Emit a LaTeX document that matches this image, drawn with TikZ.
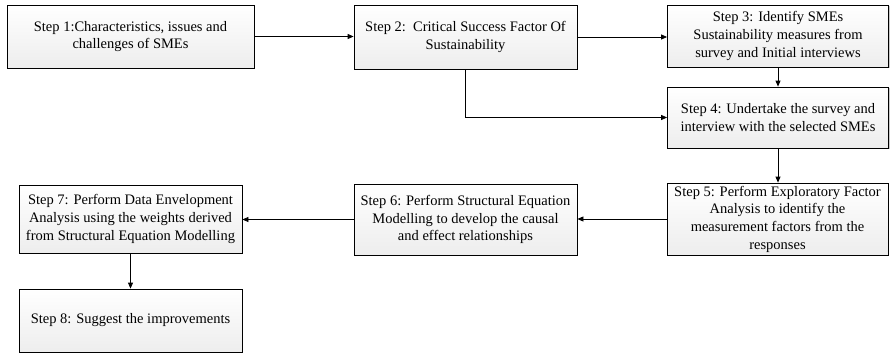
\documentclass[tikz,border=0pt]{standalone}
\usepackage{fontspec}
\setmainfont{Liberation Serif}
\usetikzlibrary{arrows.meta,shadows}
\begin{document}
\begin{tikzpicture}[x=1pt,y=-1pt,
  stepbox/.style={draw=black, line width=0.8pt, top color=white, bottom color=gray!14,
    drop shadow={shadow xshift=1pt, shadow yshift=-1pt, fill=gray!70, opacity=0.6},
    align=center, inner sep=1pt, font=\fontsize{14.5}{17.7}\selectfont},
  conn/.style={line width=0.8pt, -{Triangle[length=6pt,width=5pt]}}]
\useasboundingbox (0,0) rectangle (890,353);
\node[stepbox, minimum width=247pt, minimum height=63pt] (b1) at (130.5,36.5)
  {Step 1:Characteristics, issues and\\challenges of SMEs};
\node[stepbox, minimum width=223pt, minimum height=64pt] (b2) at (465.5,37)
  {Step 2:\ \ Critical Success Factor Of\\Sustainability};
\node[stepbox, minimum width=221pt, minimum height=62pt] (b3) at (778,36)
  {Step 3: Identify SMEs\\Sustainability measures from\\survey and Initial interviews};
\node[stepbox, minimum width=221pt, minimum height=61pt] (b4) at (778,117.5)
  {Step 4: Undertake the survey and\\interview with the selected SMEs};
\node[stepbox, minimum width=221pt, minimum height=72pt] (b5) at (777.5,219)
  {Step 5: Perform Exploratory Factor\\Analysis to identify the\\measurement factors from the\\responses};
\node[stepbox, minimum width=223pt, minimum height=71pt] (b6) at (465.5,219.5)
  {Step 6: Perform Structural Equation\\Modelling to develop the causal\\and effect relationships};
\node[stepbox, minimum width=223pt, minimum height=68pt] (b7) at (130.5,219)
  {Step 7: Perform Data Envelopment\\Analysis using the weights derived\\from Structural Equation Modelling};
\node[stepbox, minimum width=223pt, minimum height=63pt] (b8) at (130.5,320.5)
  {Step 8: Suggest the improvements};
\draw[conn] (b1.east) -- (b1.east -| b2.west);
\draw[conn] (b2.east) -- (b2.east -| b3.west);
\draw[conn] (b2.south) |- (b4.west);
\draw[conn] (b3.south) -- (b4.north);
\draw[conn] (b4.south) -- (b4.south |- b5.north);
\draw[conn] (b5.west) -- (b5.west -| b6.east);
\draw[conn] (b6.west) -- (b6.west -| b7.east);
\draw[conn] (b7.south) -- (b8.north);
\end{tikzpicture}
\end{document}
